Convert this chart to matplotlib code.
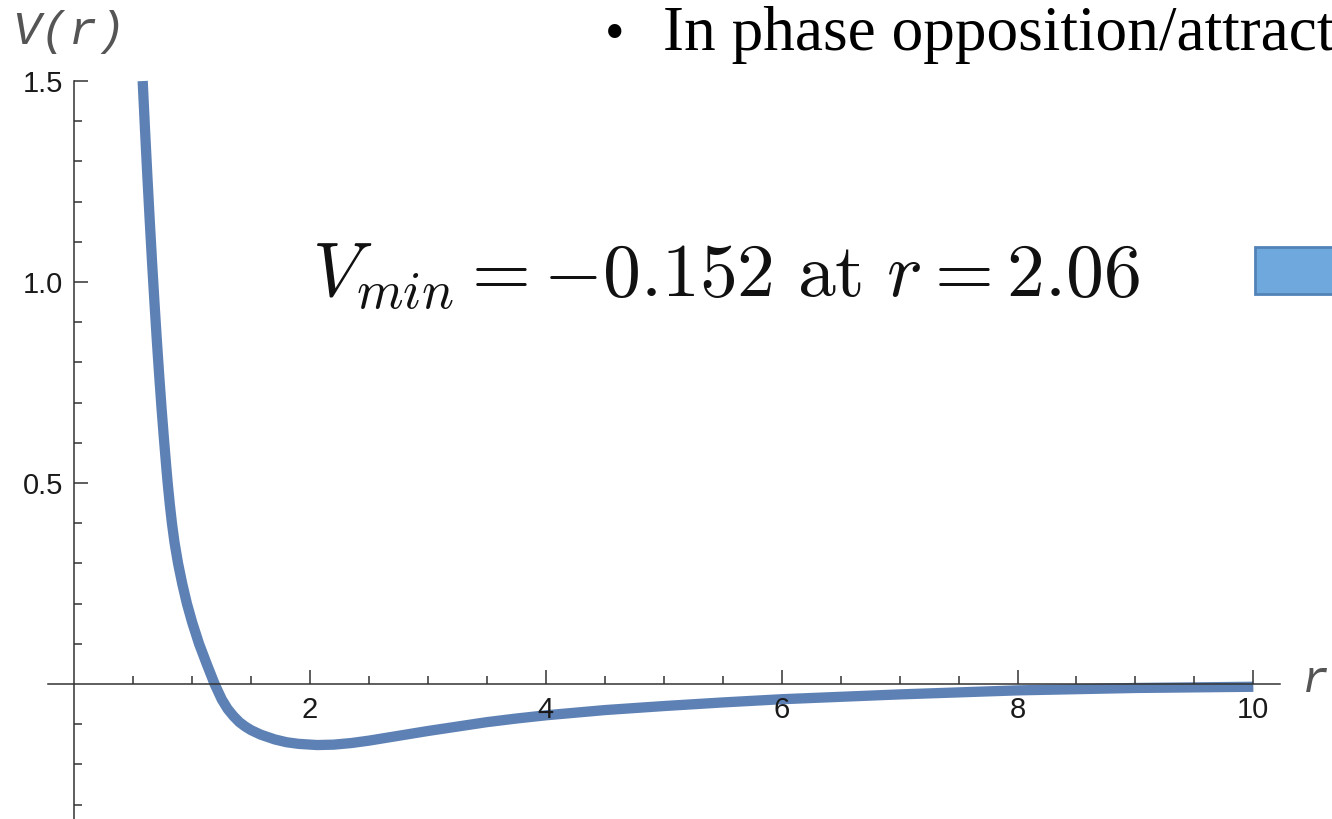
import numpy as np
import matplotlib.pyplot as plt
from matplotlib.patches import Rectangle
from matplotlib.ticker import FixedLocator

# DATA
r_vals = [0.580, 0.600, 0.620, 0.640, 0.660, 0.680, 0.700, 0.720, 0.740, 0.760,
          0.780, 0.792, 0.810, 0.828, 0.850, 0.880, 0.915, 0.955, 1.000, 1.058,
          1.120, 1.190, 1.250, 1.300, 1.350, 1.400, 1.450, 1.500, 1.580, 1.700,
          1.800, 1.900, 2.060, 2.200, 2.350, 2.500, 2.750, 3.000, 3.250, 3.500,
          3.750, 4.000, 4.500, 5.000, 5.500, 6.000, 6.500, 7.000, 7.500, 8.000,
          9.000, 10.00]
v_vals = [1.500, 1.378, 1.262, 1.152, 1.047, 0.949, 0.855, 0.768, 0.686, 0.611,
          0.540, 0.500, 0.447, 0.400, 0.352, 0.300, 0.250, 0.200, 0.153, 0.100,
          0.052, 0.000, -0.038, -0.062, -0.080, -0.095, -0.106, -0.115, -0.126, -0.138,
          -0.145, -0.149, -0.152, -0.151, -0.147, -0.141, -0.129, -0.117, -0.106, -0.095,
          -0.086, -0.078, -0.065, -0.055, -0.046, -0.038, -0.032, -0.026, -0.021, -0.016,
          -0.010, -0.007]

x_major = [2, 4, 6, 8, 10]
x_labels = ["2", "4", "6", "8", "10"]
y_major = [0.5, 1.0, 1.5]
y_labels = ["0.5", "1.0", "1.5"]

plt.rcParams['font.family'] = 'Liberation Sans'
plt.rcParams['mathtext.fontset'] = 'cm'

W, H = 1332, 819
fig = plt.figure(figsize=(W / 100, H / 100), dpi=100)

# axes placed so that r=0 sits at x=74 px and V=0 at y=684 px
ax = fig.add_axes([48 / W, 0.0, (1280 - 48) / W, (H - 73) / H])
ax.set_xlim(-0.223, 10.226)
ax.set_ylim(-0.336, 1.52)
ax.set_axisbelow(False)

ax.plot(r_vals, v_vals, color='#5E81B5', linewidth=7.4, solid_capstyle='butt',
        solid_joinstyle='round', zorder=2)

axis_col = '#333333'
for side in ['top', 'right']:
    ax.spines[side].set_visible(False)
ax.spines['left'].set_position(('data', 0))
ax.spines['bottom'].set_position(('data', 0))
ax.spines['left'].set_bounds(-0.336, 1.5)
for side in ['left', 'bottom']:
    ax.spines[side].set_color(axis_col)
    ax.spines[side].set_linewidth(1.1)

ax.xaxis.set_major_locator(FixedLocator(x_major))
ax.set_xticklabels(x_labels)
ax.xaxis.set_minor_locator(FixedLocator([v for v in np.arange(0.5, 10.0, 0.5) if v % 2 != 0]))
ax.yaxis.set_major_locator(FixedLocator(y_major))
ax.set_yticklabels(y_labels)
ax.yaxis.set_minor_locator(FixedLocator([round(v, 1) for v in np.arange(-0.3, 1.45, 0.1)
                                         if abs(v) > 1e-6 and abs(v - 0.5) > 1e-6 and abs(v - 1.0) > 1e-6]))

ax.tick_params(which='both', direction='in', color=axis_col, width=1.1,
               labelsize=21, labelcolor='#1a1a1a')
ax.tick_params(which='major', length=10)
ax.tick_params(which='minor', length=6)
ax.tick_params(axis='x', which='major', pad=9)
ax.tick_params(axis='y', which='major', pad=8)

# axis labels, Mathematica style
fig.text(12 / W, 1 - 32 / H, "V(r)", family='Liberation Mono', style='italic',
         fontsize=34, color='#555555', va='center', ha='left')
fig.text(1302 / W, 1 - 681 / H, "r", family='Liberation Mono', style='italic',
         fontsize=32, color='#555555', va='center', ha='left')

# annotation
fig.text(312 / W, 1 - 297 / H, r"$V_{min} = -0.152\ \mathrm{at}\ r = 2.06$",
         fontsize=54.6, color='#111111', va='baseline', ha='left')

# slide fragments
fig.text(605 / W, 1 - 50 / H, "\u2022", family='Liberation Serif', fontsize=40,
         va='baseline', ha='left')
fig.text(663 / W, 1 - 50 / H, "In phase opposition/attract", family='Liberation Serif',
         fontsize=45.5, va='baseline', ha='left')
fig.add_artist(Rectangle((1255 / W, 1 - 294 / H), 120 / W, 47 / H, transform=fig.transFigure,
                         facecolor='#6FA8DC', edgecolor='#5283B8', linewidth=2))

fig.savefig('out.png', dpi=100)
